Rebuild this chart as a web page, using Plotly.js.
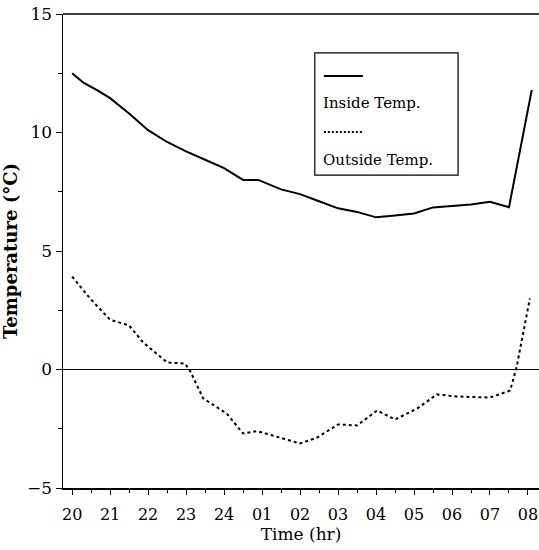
<!DOCTYPE html>
<html><head><meta charset="utf-8">
<script src="https://cdn.plot.ly/plotly-3.0.1.min.js"></script>
<style>body{margin:0;background:#fff}#c{width:539px;height:550px}</style>
</head><body><div id="c"></div>
<script>
// hours after 20:00
const hourTicks = [0,1,2,3,4,5,6,7,8,9,10,11,12];
const hourLabels = ['20','21','22','23','24','01','02','03','04','05','06','07','08'];

const insideX = [0,0.3,0.7,1.0,1.5,2.0,2.5,3.0,3.5,4.0,4.5,4.9,5.5,6.0,6.5,7.0,7.5,8.0,8.5,9.0,9.5,10.0,10.5,11.0,11.5,12.1];
const insideY = [12.5,12.1,11.75,11.45,10.8,10.1,9.6,9.2,8.85,8.5,8.0,8.0,7.6,7.4,7.1,6.8,6.65,6.42,6.5,6.58,6.84,6.9,6.96,7.08,6.85,11.8];

const outsideX = [0,0.47,1.0,1.5,1.87,2.5,2.97,3.1,3.45,4.07,4.5,4.87,5.2,6.0,6.45,7.0,7.5,8.03,8.5,9.08,9.6,10.13,11.0,11.53,11.7,12.05];
const outsideY = [3.92,3.0,2.1,1.86,1.14,0.3,0.25,-0.04,-1.22,-1.86,-2.7,-2.6,-2.75,-3.12,-2.87,-2.32,-2.36,-1.73,-2.11,-1.65,-1.05,-1.14,-1.18,-0.89,0.1,3.0];

const F = 'DejaVu Serif, Liberation Serif, serif';
const traces = [
  {x: insideX, y: insideY, mode:'lines', name:'Inside Temp.', line:{color:'#000', width:2}, showlegend:false},
  {x: outsideX, y: outsideY, mode:'lines', name:'Outside Temp.', line:{color:'#000', width:2, dash:'3px,3px'}, showlegend:false}
];
const layout = {
  width:539, height:550,
  margin:{l:63, r:0, t:14, b:62},
  paper_bgcolor:'#fff', plot_bgcolor:'#fff',
  font:{family:F, color:'#000', size:16},
  xaxis:{range:[-0.24,12.29], tickvals:hourTicks, ticktext:hourLabels, showgrid:false, zeroline:false,
    showline:true, linecolor:'#000', linewidth:1.5, ticks:'outside', ticklen:5, tickcolor:'#000',
    minor:{dtick:0.5, tick0:0.5, ticks:'outside', ticklen:3, tickcolor:'#000'},
    tickfont:{size:16, family:F}, ticklabelstandoff:6,
    title:{text:'Time (hr)', font:{size:17, family:F}, standoff:0}},
  yaxis:{range:[-5,15], tickvals:[-5,0,5,10,15], showgrid:false, zeroline:true, zerolinecolor:'#000', zerolinewidth:1.5,
    showline:true, linecolor:'#000', linewidth:1.5, ticks:'outside', ticklen:6, tickcolor:'#000',
    minor:{dtick:2.5, ticks:'outside', ticklen:4, tickcolor:'#000'},
    tickfont:{size:17, family:F},
    title:{text:'<b>Temperature (°C)</b>', font:{size:18, family:F}, standoff:4}},
  shapes:[
    {type:'line', xref:'paper', yref:'paper', x0:0, x1:1, y0:1, y1:1, line:{color:'#000', width:1.5}},
    {type:'rect', xref:'paper', yref:'paper', x0:0.529, x1:0.830, y0:0.660, y1:0.918, line:{color:'#000', width:1.2}, fillcolor:'rgba(0,0,0,0)'},
    {type:'line', xref:'paper', yref:'paper', x0:0.548, x1:0.630, y0:0.869, y1:0.869, line:{color:'#000', width:2}},
    {type:'line', xref:'paper', yref:'paper', x0:0.548, x1:0.630, y0:0.751, y1:0.751, line:{color:'#000', width:2, dash:'2px,2px'}}
  ],
  annotations:[
    {xref:'paper', yref:'paper', x:0.543, y:0.812, xanchor:'left', yanchor:'middle', text:'Inside Temp.', showarrow:false, font:{size:15, family:F}},
    {xref:'paper', yref:'paper', x:0.543, y:0.692, xanchor:'left', yanchor:'middle', text:'Outside Temp.', showarrow:false, font:{size:15, family:F}}
  ]
};
Plotly.newPlot('c', traces, layout, {displayModeBar:false, staticPlot:true});
</script></body></html>
